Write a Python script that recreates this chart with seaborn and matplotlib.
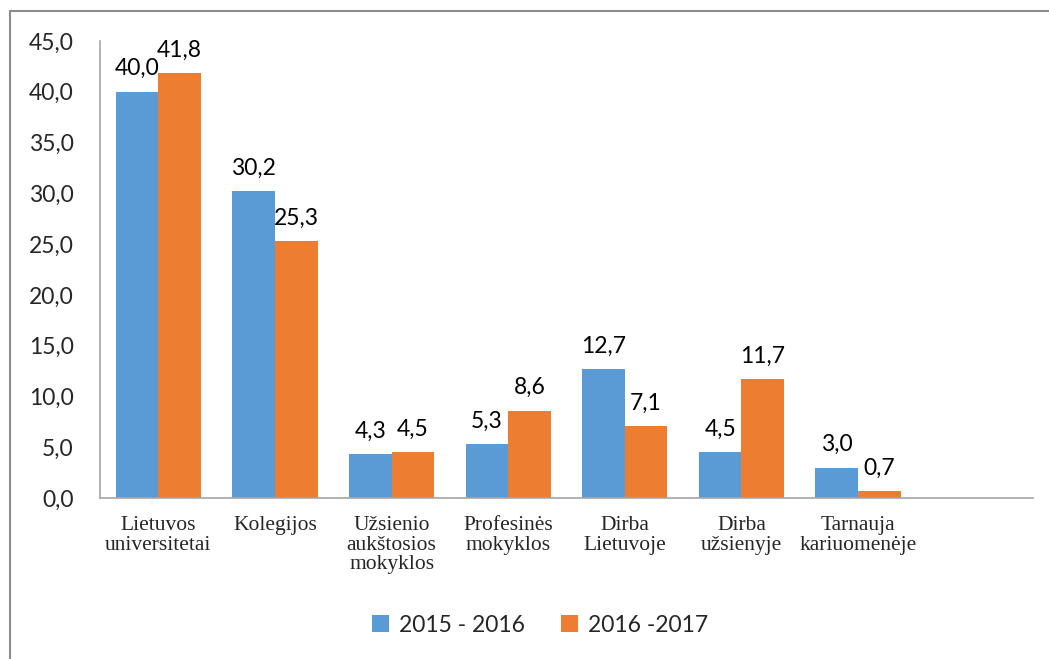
import numpy as np
import pandas as pd
import matplotlib
matplotlib.use("Agg")
import matplotlib.pyplot as plt
from matplotlib.lines import Line2D
import seaborn as sns

# duomenys
kategorijos = ["Lietuvos\nuniversitetai", "Kolegijos", "Užsienio\naukštosios\nmokyklos",
               "Profesinės\nmokyklos", "Dirba\nLietuvoje", "Dirba\nužsienyje",
               "Tarnauja\nkariuomenėje", ""]
metai = ["2015 - 2016", "2016 -2017"]
v_2015 = [40.0, 30.2, 4.3, 5.3, 12.7, 4.5, 3.0, np.nan]
v_2016 = [41.8, 25.3, 4.5, 8.6, 7.1, 11.7, 0.7, np.nan]
y_ticks = [0, 5, 10, 15, 20, 25, 30, 35, 40, 45]
spalvos = ["#5b9bd5", "#ed7d31"]

df = pd.DataFrame({
    "kategorija": kategorijos * 2,
    "metai": [metai[0]] * len(kategorijos) + [metai[1]] * len(kategorijos),
    "proc": v_2015 + v_2016,
})

sns.set_style("white")
plt.rcParams["font.family"] = ["Lato", "DejaVu Sans"]

fig = plt.figure(figsize=(10.49, 6.59), dpi=100)
ax = fig.add_axes([100 / 1049, 1 - 498 / 659, 933 / 1049, 457 / 659])

sns.barplot(data=df, x="kategorija", y="proc", hue="metai", order=kategorijos,
            hue_order=metai, palette=spalvos, width=0.73, saturation=1,
            edgecolor="none", ax=ax)

for cont in ax.containers:
    labels = [("" if np.isnan(v) else f"{v:.1f}".replace(".", ",")) for v in cont.datavalues]
    ax.bar_label(cont, labels=labels, padding=9, fontsize=16.5, color="black")

ax.set_ylim(0, 45)
ax.set_xlim(-0.5, len(kategorijos) - 0.5)
ax.set_yticks(y_ticks)
ax.set_yticklabels([f"{t:.1f}".replace(".", ",") for t in y_ticks], fontsize=16.5)
ax.set_xticks(range(len(kategorijos)))
ax.set_xticklabels(kategorijos, fontsize=15.5, family="Liberation Serif", va="top",
                   linespacing=1.05)
ax.tick_params(axis="both", length=0)
ax.tick_params(axis="y", pad=19)
ax.tick_params(axis="x", pad=13)
ax.set_xlabel("")
ax.set_ylabel("")

sns.despine(ax=ax, top=True, right=True)
for s in ["left", "bottom"]:
    ax.spines[s].set_color("#a6a6a6")
    ax.spines[s].set_linewidth(1.2)

ax.legend(loc="center", bbox_to_anchor=(540 / 1049, 1 - 625 / 659),
          bbox_transform=fig.transFigure, ncol=2, frameon=False, fontsize=16.5,
          handlelength=0.75, handleheight=0.75, handletextpad=0.4, columnspacing=1.6)

# ramelis
fig.add_artist(Line2D([10 / 1049, 1], [1 - 11 / 659, 1 - 11 / 659],
                      transform=fig.transFigure, color="#8c8c8c", lw=1.5))
fig.add_artist(Line2D([10 / 1049, 10 / 1049], [0, 1 - 11 / 659],
                      transform=fig.transFigure, color="#8c8c8c", lw=1.5))

fig.savefig("out.png", dpi=100)
